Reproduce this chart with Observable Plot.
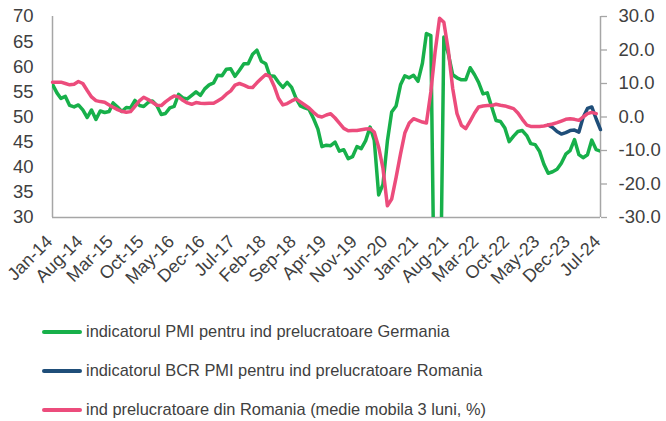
<!DOCTYPE html>
<html><head><meta charset="utf-8">
<script src="https://cdn.jsdelivr.net/npm/d3@7"></script>
<script src="https://cdn.jsdelivr.net/npm/@observablehq/plot@0.6"></script>
<style>
body{margin:0;background:#fff;font-family:"Liberation Sans",Arial,sans-serif;}
#wrap{position:relative;width:666px;height:421px;overflow:hidden;}
#legend{position:absolute;left:42px;top:312px;}
.row{height:39px;display:flex;align-items:center;font-size:16.4px;color:#404040;white-space:nowrap;}
.sw{width:40px;height:4px;margin-right:4px;border-radius:2px;}
</style></head><body><div id="wrap"><div id="chart"></div><div id="legend"></div></div>
<script>
// Monthly series, Jan-14 .. Jul-24
const firstMonth = "Jan-14";
const germanyPMI = [
  56.5, 54.8, 53.7, 54.1, 52.3, 52.0, 52.4, 51.4, 49.9, 51.4, 49.5, 51.2,
  50.9, 51.1, 52.8, 52.0, 51.1, 51.9, 51.8, 53.3, 52.3, 52.1, 52.9, 53.2,
  52.3, 50.5, 50.7, 51.8, 52.1, 54.5, 53.8, 53.6, 54.3, 55.0, 54.3, 55.6,
  56.4, 56.8, 58.3, 58.2, 59.5, 59.6, 58.1, 59.3, 60.6, 60.6, 62.5, 63.3,
  61.1, 60.6, 58.2, 58.1, 56.9, 55.9, 56.9, 55.9, 53.7, 52.2, 51.8, 51.5,
  49.7, 47.6, 44.1, 44.4, 44.3, 45.0, 43.2, 43.5, 41.7, 42.1, 44.1, 43.7,
  45.3, 48.0, 45.4, 34.5, 36.6, 45.2, 51.0, 52.2, 56.4, 58.2, 57.8, 58.3,
  57.1, 60.7, 66.6, 66.2, 0, 0, 65.9, 62.6, 58.4, 57.8, 57.4, 57.4,
  59.8, 58.4, 56.9, 54.6, 54.8, 52.0, 49.3, 49.1, 47.8, 45.1, 46.2, 47.1,
  47.3, 46.3, 44.7, 44.5, 43.2, 40.6, 38.8, 39.1, 39.6, 40.8, 42.6, 43.3,
  45.5, 42.5, 41.9, 42.5, 45.4, 43.5, 43.2
];
const romaniaPMIStart = "Jul-23";
const romaniaPMI = [48.4, 47.9, 47.1, 46.6, 46.9, 47.3, 47.4, 47.0, 49.9, 51.7, 52.0, 49.6, 47.5];
// Romania manufacturing, 3-month moving average, % (right axis), Jan-14 .. Jun-24
const romaniaIndustry = [
  10.4, 10.4, 10.4, 10.0, 9.6, 9.8, 10.6, 10.0, 7.9, 6.0, 4.9, 4.6,
  4.4, 3.6, 2.9, 2.2, 1.7, 1.4, 1.6, 3.2, 4.8, 5.9, 5.2, 4.4,
  3.5, 3.4, 4.5, 5.5, 6.3, 6.0, 5.0, 4.2, 3.8, 4.3, 4.1, 4.0,
  4.1, 4.1, 4.8, 5.6, 6.8, 7.8, 9.5, 10.0, 9.5, 8.9, 8.8, 10.2,
  11.5, 12.7, 12.1, 9.2, 5.6, 3.6, 4.0, 4.8, 5.4, 4.5, 3.6, 2.7,
  1.4, 0.3, 0.0, 0.6, 1.0, -0.3, -1.8, -3.4, -4.1, -4.0, -4.0, -3.8,
  -3.6, -3.5, -4.5, -9.0, -15.3, -26.5, -24.5, -18.0, -11.0, -4.8, -1.8, -0.5,
  -1.0, -1.5, -1.8, 7.5, 19.5, 29.5, 28.3, 20.0, 8.5, 1.0, -2.5, -3.5,
  -1.2, 1.2, 3.0, 3.3, 3.4, 3.4, 3.8, 3.5, 3.3, 2.9, 2.5, 1.2,
  -0.7, -2.4, -2.8, -2.8, -2.8, -2.7, -2.4, -2.1, -1.7, -1.2, -0.7, -0.5,
  -0.7, -1.0, 0.0, 1.0, 1.4, 1.0
];
const tickLabels = ["Jan-14","Aug-14","Mar-15","Oct-15","May-16","Dec-16","Jul-17","Feb-18","Sep-18","Apr-19","Nov-19","Jun-20","Jan-21","Aug-21","Mar-22","Oct-22","May-23","Dec-23","Jul-24"];
const leftTicks = [30, 35, 40, 45, 50, 55, 60, 65, 70];
const rightTicks = [-30, -20, -10, 0, 10, 20, 30];
const seriesNames = [
  "indicatorul PMI pentru ind prelucratoare Germania",
  "indicatorul BCR PMI pentru ind prelucratoare Romania",
  "ind prelucratoare din Romania (medie mobila 3 luni, %)"
];
const seriesColors = ["#17b04a", "#1f4e79", "#ec4c7c"];

const parse = d3.utcParse("%b-%y");
const fmt = d3.utcFormat("%b-%y");
const t0 = parse(firstMonth);
const month = i => d3.utcMonth.offset(t0, i);
// right axis (-30..30) mapped onto left axis (30..70)
const toLeft = r => 50 + r * 2 / 3;
const toRight = l => (l - 50) * 1.5;

const green = germanyPMI.map((v, i) => ({date: month(i), v}));
const blueStart = d3.utcMonth.count(t0, parse(romaniaPMIStart));
const blue = romaniaPMI.map((v, i) => ({date: month(blueStart + i), v}));
const pink = romaniaIndustry.map((v, i) => ({date: month(i), v: toLeft(v)}));
const lastMonth = parse(tickLabels[tickLabels.length - 1]);

const axisGrey = "#a6a6a6";
const textGrey = "#404040";

const chart = Plot.plot({
  width: 666, height: 300,
  marginTop: 16, marginBottom: 83, marginLeft: 52, marginRight: 66,
  x: {type: "utc", domain: [t0, lastMonth]},
  y: {domain: [30, 70]},
  style: {fontFamily: "'Liberation Sans', Arial, sans-serif", background: "white", color: textGrey, overflow: "visible"},
  marks: [
    Plot.axisY({anchor: "left", ticks: leftTicks, tickSize: 0, tickPadding: 19, fontSize: 18.5, fill: textGrey, tickFormat: d => String(d), label: null}),
    Plot.axisY({anchor: "right", ticks: rightTicks.map(toLeft), tickSize: 6, tickPadding: 12, fontSize: 18.5, stroke: axisGrey, strokeWidth: 1.3, fill: textGrey, textAnchor: "start", tickFormat: v => toRight(v).toFixed(1), label: null}),
    Plot.axisX({ticks: tickLabels.map(parse), tickFormat: fmt, tickRotate: -45, tickSize: 0, tickPadding: 21, dx: -3, fontSize: 18, fill: textGrey, label: null}),
    Plot.ruleX([t0], {stroke: axisGrey, strokeWidth: 1.5}),
    Plot.ruleX([lastMonth], {stroke: axisGrey, strokeWidth: 1.5}),
    Plot.ruleY([30], {stroke: axisGrey, strokeWidth: 1.5}),
    Plot.lineY(green, {x: "date", y: "v", stroke: seriesColors[0], strokeWidth: 3.5, strokeLinejoin: "round", clip: true}),
    Plot.lineY(blue, {x: "date", y: "v", stroke: seriesColors[1], strokeWidth: 3.5, strokeLinejoin: "round"}),
    Plot.lineY(pink, {x: "date", y: "v", stroke: seriesColors[2], strokeWidth: 3.5, strokeLinejoin: "round"})
  ]
});
document.getElementById("chart").appendChild(chart);

const legend = document.getElementById("legend");
seriesNames.forEach((name, i) => {
  const row = document.createElement("div");
  row.className = "row";
  const sw = document.createElement("span");
  sw.className = "sw";
  sw.style.background = seriesColors[i];
  row.appendChild(sw);
  row.appendChild(document.createTextNode(name));
  legend.appendChild(row);
});
</script>
</body></html>
